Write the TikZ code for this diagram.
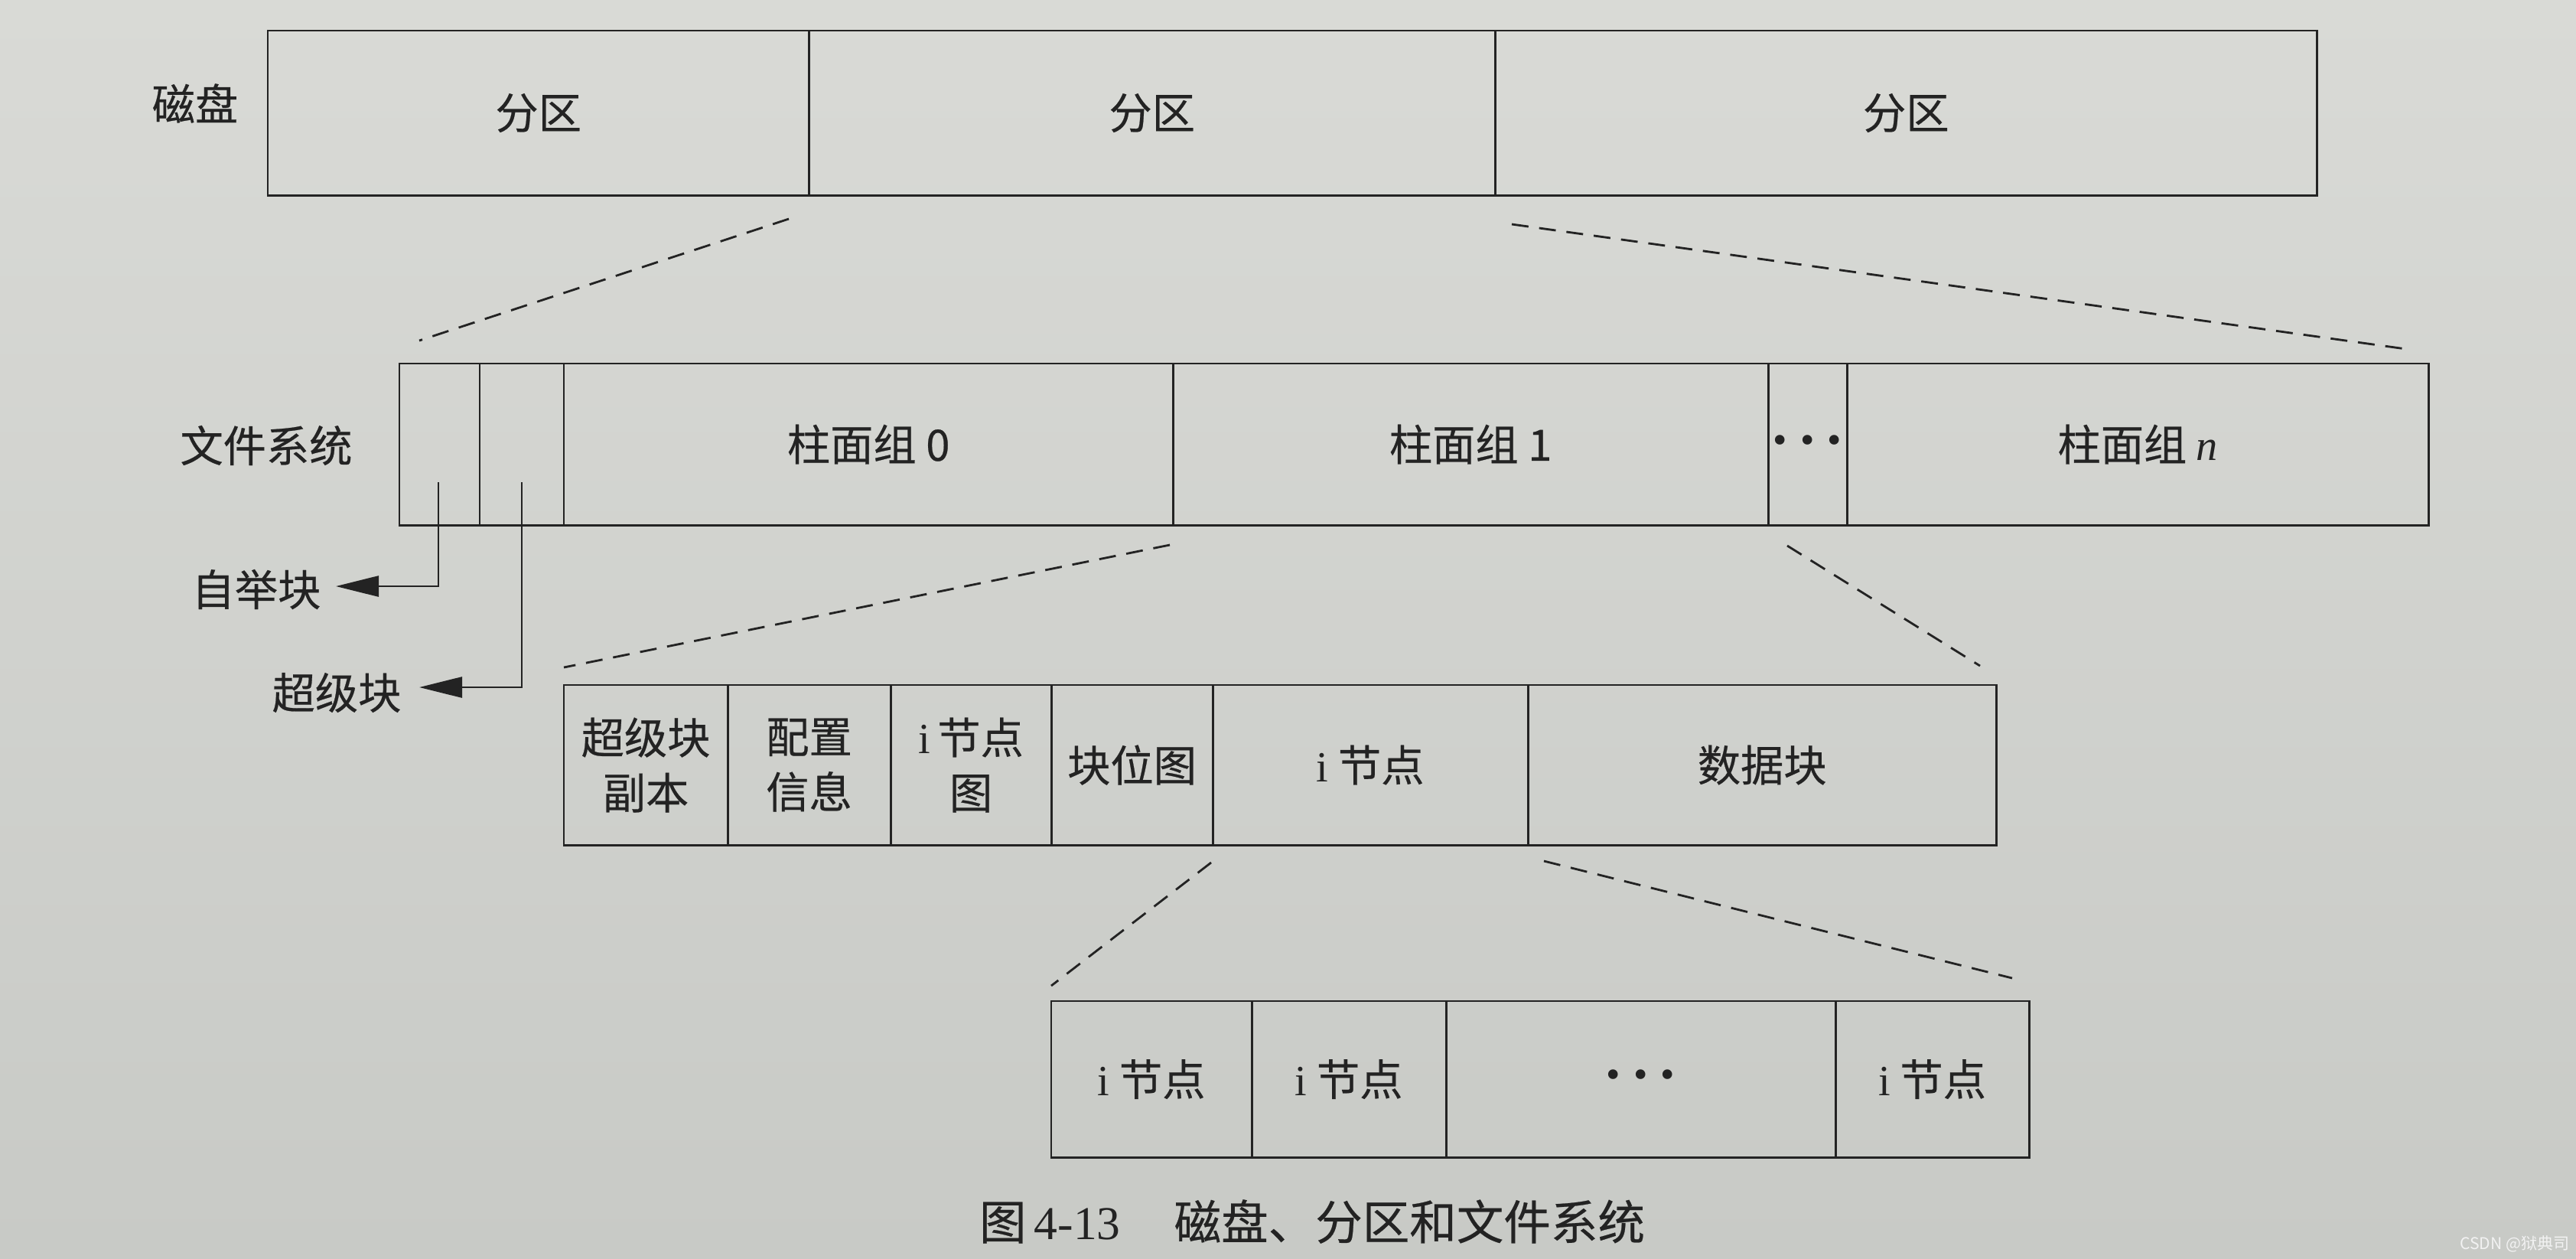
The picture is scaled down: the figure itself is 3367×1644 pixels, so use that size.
\documentclass[tikz,border=0pt]{standalone}
\usepackage{fontspec}
\setmainfont{Liberation Serif}
\newfontfamily\cjk[FakeBold=0.4]{Noto Sans CJK SC}
\newfontfamily\cjkwm{Noto Sans CJK SC}
\usetikzlibrary{arrows.meta}
\definecolor{bgtop}{HTML}{D9DAD6}
\definecolor{bgbot}{HTML}{C8CAC6}
\definecolor{ink}{HTML}{232323}
\newcommand\cellsdots{{\rmfamily\fontsize{15}{15}\selectfont •\hspace{0.17cm}•\hspace{0.17cm}•}}
\begin{document}
\begin{tikzpicture}[x=0.01cm,y=-0.01cm,
  cell/.style={draw=ink, line width=0.8pt, inner sep=0pt, outer sep=0pt,
    anchor=north west, text=ink, align=center,
    font=\cjk\fontsize{16}{20.5}\selectfont},
  lbl/.style={text=ink, inner sep=0pt, align=center,
    font=\cjk\fontsize{16}{20.5}\selectfont},
  dsh/.style={draw=ink, line width=0.8pt, dash pattern=on 0.22cm off 0.14cm},
  arr/.style={draw=ink, line width=0.8pt,
    -{Triangle[length=0.56cm,width=0.27cm]}}]
% background
\shade[top color=bgtop, bottom color=bgbot] (0,0) rectangle (3367,1644);
% disk
\node[cell, minimum width=7.07cm, minimum height=2.15cm] (p1) at (350,40) {分区};
\node[cell, minimum width=8.97cm, minimum height=2.15cm] (p2) at (1057,40) {分区};
\node[cell, minimum width=10.74cm, minimum height=2.15cm] (p3) at (1954,40) {分区};
\node[lbl] (disk) at (255,135) {磁盘};
% file system
\node[cell, minimum width=1.05cm, minimum height=2.11cm] (b1) at (522,475) {};
\node[cell, minimum width=1.10cm, minimum height=2.11cm] (b2) at (627,475) {};
\node[cell, minimum width=7.96cm, minimum height=2.11cm] (g0) at (737,475) {柱面组 0};
\node[cell, minimum width=7.78cm, minimum height=2.11cm] (g1) at (1533,475) {柱面组 1};
\node[cell, minimum width=1.03cm, minimum height=2.11cm] (gd) at (2311,475) {\cellsdots};
\node[cell, minimum width=7.60cm, minimum height=2.11cm] (gn) at (2414,475) {柱面组 {\rmfamily\itshape n}};
\node[lbl] (fs) at (348,582) {文件系统};
% cylinder group
\node[cell, minimum width=2.14cm, minimum height=2.09cm] (c1) at (737,895) {超级块\\副本};
\node[cell, minimum width=2.13cm, minimum height=2.09cm] (c2) at (951,895) {配置\\信息};
\node[cell, minimum width=2.10cm, minimum height=2.09cm] (c3) at (1164,895) {{\rmfamily i}\,节点\\图};
\node[cell, minimum width=2.11cm, minimum height=2.09cm] (c4) at (1374,895) {块位图};
\node[cell, minimum width=4.12cm, minimum height=2.09cm] (c5) at (1585,895) {{\rmfamily i} 节点};
\node[cell, minimum width=6.12cm, minimum height=2.09cm] (c6) at (1997,895) {数据块};
% inodes
\node[cell, minimum width=2.62cm, minimum height=2.04cm] (i1) at (1374,1308) {{\rmfamily i} 节点};
\node[cell, minimum width=2.54cm, minimum height=2.04cm] (i2) at (1636,1308) {{\rmfamily i} 节点};
\node[cell, minimum width=5.09cm, minimum height=2.04cm] (i3) at (1890,1308) {\cellsdots};
\node[cell, minimum width=2.53cm, minimum height=2.04cm] (i4) at (2399,1308) {{\rmfamily i} 节点};
% dashed zoom lines
\coordinate (d1a) at (1031,286); \coordinate (d1b) at (548,445);
\coordinate (d2a) at (1976,293); \coordinate (d2b) at (3152,457);
\coordinate (d3a) at (1529,712); \coordinate (d3b) at (737,872);
\coordinate (d4a) at (2336,713); \coordinate (d4b) at (2588,870);
\coordinate (d5a) at (1583,1127); \coordinate (d5b) at (1374,1288);
\coordinate (d6a) at (2018,1125); \coordinate (d6b) at (2630,1278);
\draw[dsh] (d1a) -- (d1b);
\draw[dsh] (d2a) -- (d2b);
\draw[dsh] (d3a) -- (d3b);
\draw[dsh] (d4a) -- (d4b);
\draw[dsh] (d5a) -- (d5b);
\draw[dsh] (d6a) -- (d6b);
% boot block and superblock arrows
\coordinate (s1) at (573,630); \coordinate (t1) at (439,766);
\coordinate (s2) at (682,630); \coordinate (t2) at (548,898);
\draw[arr] (s1) |- (t1);
\draw[arr] (s2) |- (t2);
\node[lbl] (boot) at (335,770) {自举块};
\node[lbl] (super) at (440,905) {超级块};
% caption
\node[lbl, font=\cjk\fontsize{17.5}{20}\selectfont] (cap) at (1715,1596)
  {图\,{\rmfamily 4-13}\hspace{0.7cm}磁盘、分区和文件系统};
% watermark
\node[inner sep=0pt, text=white!90!gray, font=\cjkwm\fontsize{6}{7}\selectfont] (wm) at (3287,1625) {CSDN @狱典司};
\end{tikzpicture}
\end{document}
